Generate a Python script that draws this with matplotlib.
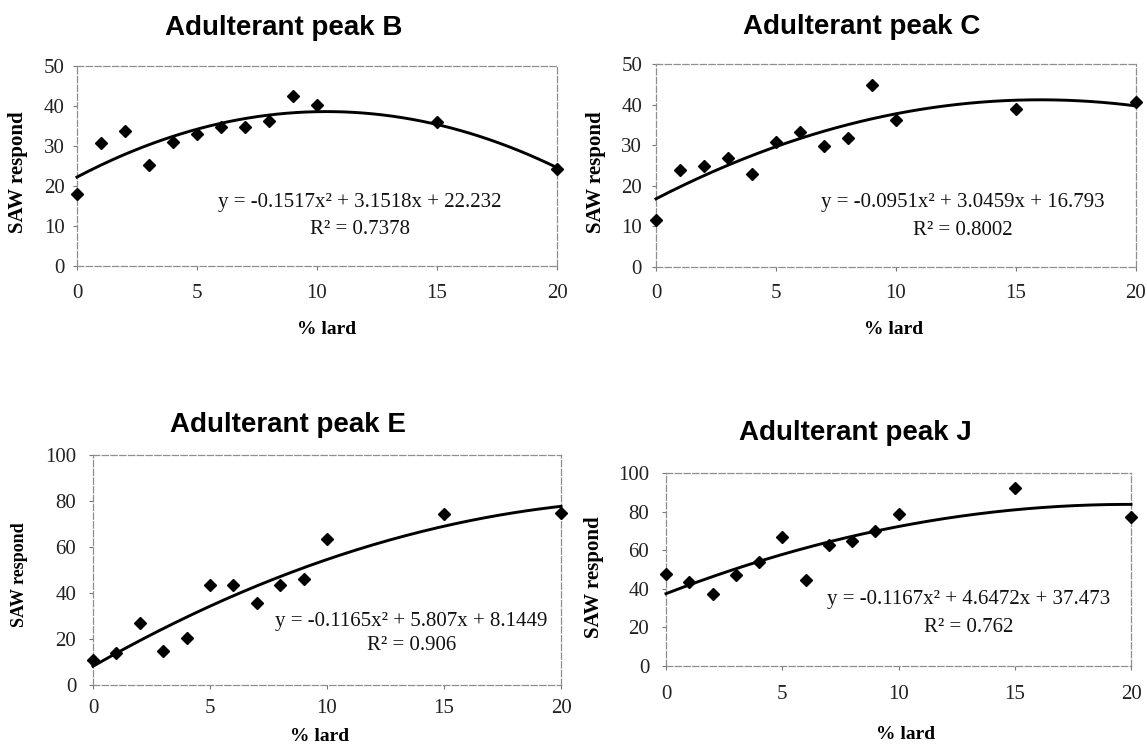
import matplotlib
matplotlib.use("Agg")
import matplotlib.pyplot as plt
import numpy as np

# ---------------- data ----------------
lard = [0, 1, 2, 3, 4, 5, 6, 7, 8, 9, 10, 15, 20]

peak_B = [17.9, 30.7, 33.7, 25.2, 31.1, 33.1, 34.7, 34.7, 36.2, 42.5, 40.2, 35.9, 24.3]
peak_C = [11.6, 23.9, 24.9, 26.9, 23.0, 30.8, 33.2, 29.7, 31.7, 44.9, 36.3, 38.9, 40.6]
peak_E = [10.8, 14.1, 26.8, 14.8, 20.3, 43.5, 43.5, 35.8, 43.5, 45.9, 63.3, 74.2, 74.9]
peak_J = [47.8, 43.4, 37.1, 46.9, 53.8, 66.7, 44.8, 62.6, 65.0, 70.2, 79.0, 92.2, 77.2]

# quadratic trend-line coefficients (a, b, c) as printed on the chart
coef_B = [-0.1517, 3.1518, 22.232]
coef_C = [-0.0951, 3.0459, 16.793]
coef_E = [-0.1165, 5.807, 8.1449]
coef_J = [-0.1167, 4.6472, 37.473]

titles = ["Adulterant peak B", "Adulterant peak C", "Adulterant peak E", "Adulterant peak J"]
equations = ["y = -0.1517x\u00b2 + 3.1518x + 22.232",
             "y = -0.0951x\u00b2 + 3.0459x + 16.793",
             "y = -0.1165x\u00b2 + 5.807x + 8.1449",
             "y = -0.1167x\u00b2 + 4.6472x + 37.473"]
r2_labels = ["R\u00b2 = 0.7378", "R\u00b2 = 0.8002", "R\u00b2 = 0.906", "R\u00b2 = 0.762"]
x_ticks = [0, 5, 10, 15, 20]
y_ticks_small = [0, 10, 20, 30, 40, 50]
y_ticks_large = [0, 20, 40, 60, 80, 100]

# ---------------- layout ----------------
W, H = 1147, 746
fig = plt.figure(figsize=(W / 100, H / 100), dpi=100)
fig.patch.set_facecolor("white")

SERIF = ["Liberation Serif", "DejaVu Serif"]
SANS = ["Liberation Sans", "DejaVu Sans"]

def px_axes(l, r, t, b):
    return [l / W, 1 - b / H, (r - l) / W, (b - t) / H]

panels = [
    dict(rect=px_axes(77, 557, 66, 266), y=peak_B, coef=coef_B, yt=y_ticks_small, ymax=50,
         title_xy=(284, 28), eq_xy=(11.8, 16.0), r2_xy=(11.8, 9.0),
         xpad=10, ypad=6, ylab=(-0.123, 0.4675), xlab=(0.52, -0.32), ylab_fs=15),
    dict(rect=px_axes(656, 1136, 64, 267), y=peak_C, coef=coef_C, yt=y_ticks_small, ymax=50,
         title_xy=(862, 27), eq_xy=(12.8, 15.8), r2_xy=(12.8, 8.9),
         xpad=9, ypad=7, ylab=(-0.125, 0.4655), xlab=(0.494, -0.31), ylab_fs=15),
    dict(rect=px_axes(93, 561, 455, 685), y=peak_E, coef=coef_E, yt=y_ticks_large, ymax=100,
         title_xy=(288, 425), eq_xy=(13.6, 27.8), r2_xy=(13.6, 17.0),
         xpad=7, ypad=9, ylab=(-0.156, 0.48), xlab=(0.485, -0.225), ylab_fs=13),
    dict(rect=px_axes(666, 1131, 473, 666), y=peak_J, coef=coef_J, yt=y_ticks_large, ymax=100,
         title_xy=(855, 433), eq_xy=(13.0, 34.2), r2_xy=(13.0, 19.7),
         xpad=11, ypad=9, ylab=(-0.155, 0.461), xlab=(0.516, -0.357), ylab_fs=15),
]

xfit = np.linspace(0, 20, 200)

for i, p in enumerate(panels):
    ax = fig.add_axes(p["rect"])
    a, b, c = p["coef"]
    ax.plot(xfit, a * xfit ** 2 + b * xfit + c, color="black", lw=2.1, zorder=3, clip_on=False)
    ax.plot(lard, p["y"], linestyle="none", marker="D", markersize=6,
            color="black", zorder=4, clip_on=False)
    ax.set_xlim(0, 20)
    ax.set_ylim(0, p["ymax"])
    ax.set_xticks(x_ticks)
    ax.set_yticks(p["yt"])
    for s in ax.spines.values():
        s.set_color("#8f8f8f")
        s.set_linewidth(0.9)
        s.set_linestyle((0, (5, 2)))
    ax.tick_params(axis="x", direction="out", length=3, width=0.8, color="#777777",
                   pad=p["xpad"], labelsize=15)
    ax.tick_params(axis="y", direction="out", length=3, width=0.8, color="#777777",
                   pad=p["ypad"], labelsize=15)
    for lab in ax.get_xticklabels() + ax.get_yticklabels():
        lab.set_fontfamily(SERIF)
        lab.set_color("#222222")

    ax.set_ylabel("SAW respond", fontsize=p["ylab_fs"], fontweight="bold", family=SERIF)
    ax.yaxis.set_label_coords(*p["ylab"])
    ax.yaxis.label.set_va("center")
    ax.set_xlabel("% lard", fontsize=14, fontweight="bold", family=SERIF)
    ax.xaxis.set_label_coords(*p["xlab"])
    ax.xaxis.label.set_va("center")

    ax.text(p["eq_xy"][0], p["eq_xy"][1], equations[i], ha="center", va="center",
            fontsize=15, family=SERIF, color="#111111")
    ax.text(p["r2_xy"][0], p["r2_xy"][1], r2_labels[i], ha="center", va="center",
            fontsize=15, family=SERIF, color="#111111")

    tx, ty = p["title_xy"]
    fig.text(tx / W, 1 - ty / H, titles[i], ha="center", va="center",
             fontsize=20, fontweight="bold", family=SANS)

fig.savefig("out.png", dpi=100, facecolor="white")
